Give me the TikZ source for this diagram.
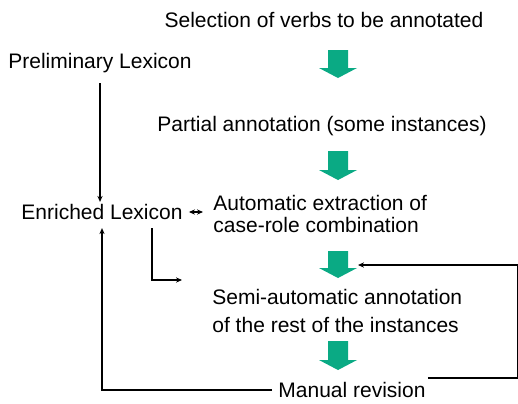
\documentclass[tikz,border=0pt]{standalone}
\usepackage{fontspec}
\setmainfont{Liberation Sans}
\usetikzlibrary{arrows.meta}

\definecolor{stepgreen}{RGB}{10,170,132}

\tikzset{
  steptext/.style={font=\fontsize{10.5}{11}\selectfont, inner sep=1pt},
  flowarrow/.style={fill=stepgreen, draw=none},
  link/.style={line width=0.7pt},
}

\begin{document}
\begin{tikzpicture}[x=0.5pt, y=-0.5pt, >={Stealth[length=3pt,width=2.6pt]}]

  \useasboundingbox (0,0) rectangle (518,403);

  %=====================================================================
  % Steps of the annotation process
  %=====================================================================
  \node[steptext] (select) at (324,20) {Selection of verbs to be annotated};
  \node[steptext] (partial) at (322,126) {Partial annotation (some instances)};
  \node[steptext, anchor=west, align=left] (autoext) at (211,214)
    {Automatic extraction of\\case-role combination};
  \node[steptext, anchor=west, align=left, font=\fontsize{10.5}{14}\selectfont]
    (semiauto) at (210,311)
    {Semi-automatic annotation\\of the rest of the instances};
  \node[steptext] (manual) at (352,390) {Manual revision};

  % lexicons
  \node[steptext] (prelim) at (100,63) {Preliminary Lexicon};
  \node[steptext] (enriched) at (102,212) {Enriched Lexicon};

  %=====================================================================
  % Block arrows between the steps
  %=====================================================================
  \fill[flowarrow] (328,50) -- (348,50) -- (348,68) -- (357,68)
    -- (338,78) -- (319,68) -- (328,68) -- cycle;
  \fill[flowarrow] (328,151) -- (348,151) -- (348,170) -- (357,170)
    -- (338,180) -- (319,170) -- (328,170) -- cycle;
  \fill[flowarrow] (328,251) -- (348,251) -- (348,268) -- (357,268)
    -- (338,278) -- (319,268) -- (328,268) -- cycle;
  \fill[flowarrow] (328,341) -- (348,341) -- (348,360) -- (357,360)
    -- (338,370) -- (319,360) -- (328,360) -- cycle;

  %=====================================================================
  % Connectors
  %=====================================================================
  \coordinate (semiin) at (182,280);
  \coordinate (loopin) at (358,265);

  \draw[link,->, shorten <=4pt] (prelim.south) -- (prelim.south |- enriched.north);
  \draw[link,<->, shorten <=2pt, shorten >=4pt] (enriched.east) -- (enriched.east -| autoext.west);
  % lexicon feeds the semi-automatic step
  \draw[link,->] ([xshift=25pt,yshift=-3pt]enriched.south) |- (semiin);
  % revision goes back to the lexicon ...
  \draw[link,->, shorten <=2pt, shorten >=3pt] (manual.west) -| (enriched.south);
  % ... and back to the semi-automatic step
  \draw[link,->] ([yshift=6pt]manual.east) -- ++(90,0) |- (loopin);

\end{tikzpicture}
\end{document}
